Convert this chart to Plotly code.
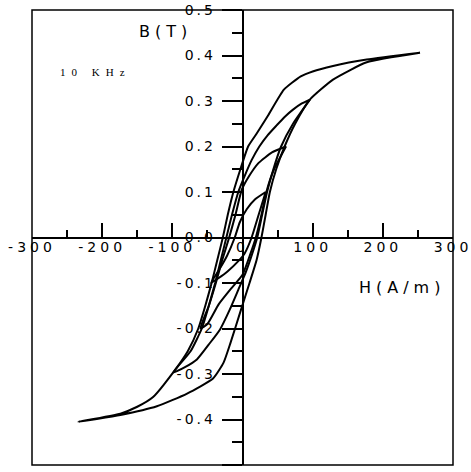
import plotly.graph_objects as go

# ---- data (H in A/m, B in T) ----
# Major loop (tip ~ +/-0.4 T)
L4_asc_H = [-234, -174, -122, -79, -42, -27, -17, -2, 10, 20, 27, 33, 39, 48, 60, 75, 96, 129, 177, 253]
L4_asc_B = [-0.405, -0.390, -0.371, -0.343, -0.310, -0.275, -0.231, -0.158, -0.100, -0.050, 0.000, 0.050, 0.100, 0.150, 0.200, 0.250, 0.303, 0.347, 0.385, 0.406]
L4_desc_H = [253, 177, 129, 100, 83, 59, 36, 20, 8, -3, -13, -21, -28, -36, -44, -53, -63, -78, -99, -127, -150, -174, -234]
L4_desc_B = [0.406, 0.391, 0.377, 0.365, 0.354, 0.325, 0.267, 0.228, 0.200, 0.150, 0.100, 0.050, 0.000, -0.050, -0.100, -0.150, -0.200, -0.250, -0.297, -0.350, -0.372, -0.387, -0.405]

# Loop with tip ~ +/-0.3 T
L3_asc_H = [-99, -82, -65, -48, -32, -18, -6, 5, 14, 21, 28, 35, 44, 55, 72, 96]
L3_asc_B = [-0.297, -0.285, -0.268, -0.235, -0.202, -0.158, -0.115, -0.075, -0.035, 0.000, 0.050, 0.100, 0.150, 0.200, 0.250, 0.303]
L3_desc_H = [96, 84, 72, 60, 49, 36, 24, 13, 3, -6, -15, -23, -31, -39, -48, -58, -74, -99]
L3_desc_B = [0.303, 0.294, 0.281, 0.265, 0.247, 0.225, 0.200, 0.170, 0.135, 0.100, 0.050, 0.000, -0.050, -0.100, -0.150, -0.200, -0.250, -0.297]

# Loop with tip ~ +/-0.2 T
L2_asc_H = [-60, -50, -34, -15, 0, 11, 19, 27, 34, 45, 62]
L2_asc_B = [-0.200, -0.190, -0.147, -0.110, -0.082, -0.037, 0.000, 0.050, 0.100, 0.150, 0.200]
L2_desc_H = [62, 42, 23, 9, -1, -10, -19, -29, -38, -48, -60]
L2_desc_B = [0.200, 0.187, 0.164, 0.134, 0.105, 0.050, 0.000, -0.050, -0.100, -0.150, -0.200]

# Loop with tip ~ +/-0.1 T
L1_asc_H = [-45, -35, -21, -6, 3, 13, 23, 33]
L1_asc_B = [-0.100, -0.090, -0.074, -0.052, -0.035, 0.000, 0.050, 0.100]
L1_desc_H = [33, 18, 6, -4, -11, -22, -33, -45]
L1_desc_B = [0.100, 0.084, 0.062, 0.033, 0.000, -0.040, -0.070, -0.100]

X_TICKS = [-300, -200, -100, 0, 100, 200, 300]
X_TICK_TEXT = ["-300", "-200", "-100", "0", "100", "200", "300"]
Y_TICKS = [-0.5, -0.4, -0.3, -0.2, -0.1, 0.0, 0.1, 0.2, 0.3, 0.4, 0.5]
Y_TICK_TEXT = ["-0.5", "-0.4", "-0.3", "-0.2", "-0.1", "0.0", "0.1", "0.2", "0.3", "0.4", "0.5"]

loops = [
    (L4_asc_H + L4_desc_H, L4_asc_B + L4_desc_B),
    (L3_asc_H + L3_desc_H, L3_asc_B + L3_desc_B),
    (L2_asc_H + L2_desc_H, L2_asc_B + L2_desc_B),
    (L1_asc_H + L1_desc_H, L1_asc_B + L1_desc_B),
]

fig = go.Figure()
for hx, by in loops:
    fig.add_trace(go.Scatter(x=hx, y=by, mode="lines",
                             line=dict(color="black", width=2, shape="spline", smoothing=0.5),
                             showlegend=False, hoverinfo="skip"))

tickfont = dict(family="DejaVu Sans", size=14, color="black")

fig.update_layout(
    template="none",
    width=471, height=472,
    margin=dict(l=32, r=18, t=10, b=7, pad=0),
    paper_bgcolor="white", plot_bgcolor="white",
    showlegend=False,
    xaxis=dict(range=[-300, 300], anchor="free", position=0.5, automargin=False,
               showline=True, linecolor="black", linewidth=2,
               ticks="inside", ticklen=14, tickwidth=1.5, tickcolor="black",
               tickmode="array", tickvals=X_TICKS, ticktext=X_TICK_TEXT,
               tickfont=tickfont, ticklabelstandoff=-3, showgrid=False, zeroline=False,
               minor=dict(dtick=50, tick0=0, ticks="inside", ticklen=7, tickwidth=1.5,
                          tickcolor="black", showgrid=False)),
    yaxis=dict(range=[-0.5, 0.5], anchor="free", position=0.5, automargin=False,
               showline=True, linecolor="black", linewidth=1.5,
               ticks="outside", ticklen=20, tickwidth=1.5, tickcolor="black",
               tickmode="array", tickvals=Y_TICKS, ticktext=Y_TICK_TEXT,
               tickfont=tickfont, ticklabelstandoff=3, showgrid=False, zeroline=False,
               minor=dict(dtick=0.05, tick0=0, ticks="outside", ticklen=10, tickwidth=1.5,
                          tickcolor="black", showgrid=False)),
    shapes=[dict(type="rect", xref="paper", yref="paper", x0=0, x1=1, y0=0, y1=1,
                 line=dict(color="black", width=1.5), layer="above")],
    annotations=[
        dict(text="B(T)", xref="paper", yref="paper", x=0.318, y=0.952,
             xanchor="center", yanchor="middle",
             showarrow=False, font=dict(family="DejaVu Sans", size=16, color="black")),
        dict(text="H(A/m)", xref="paper", yref="paper", x=0.878, y=0.391,
             xanchor="center", yanchor="middle",
             showarrow=False, font=dict(family="DejaVu Sans", size=16, color="black")),
        dict(text="10 KHz", xref="paper", yref="paper", x=0.150, y=0.864,
             xanchor="center", yanchor="middle",
             showarrow=False, font=dict(family="Liberation Serif", size=11, color="black")),
    ],
)

post = """
document.body.style.margin = '0';
document.querySelectorAll('.xtick text').forEach(function(t){ t.style.letterSpacing = '4px'; });
document.querySelectorAll('.ytick text').forEach(function(t){ t.style.letterSpacing = '3px'; });
var ann = document.querySelectorAll('.annotation-text');
ann.forEach(function(t){
  if (t.textContent.indexOf('KHz') >= 0) { t.style.letterSpacing = '6px'; }
  else { t.style.letterSpacing = '5px'; }
});
"""

fig.write_html("out.html", post_script=post, config={"displayModeBar": False})
